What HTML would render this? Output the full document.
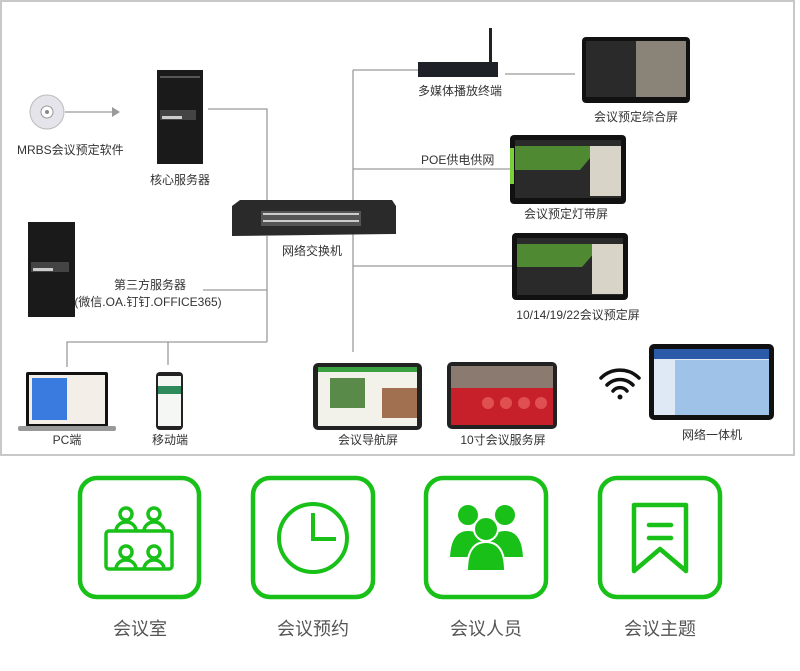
<!DOCTYPE html>
<html><head><meta charset="utf-8"><style>
html,body{margin:0;padding:0;background:#fff;}
svg{display:block;}
text{font-family:"Liberation Sans","Noto Sans CJK SC",sans-serif;}
</style></head><body>
<svg width="800" height="671" viewBox="0 0 800 671" xmlns="http://www.w3.org/2000/svg">
<rect x="0" y="0" width="800" height="671" fill="#fff"/>
<rect x="1" y="1" width="793" height="454" fill="#fff" stroke="#c8c8c8" stroke-width="2"/>

<!-- connectors -->
<g stroke="#9a9a9a" stroke-width="1.3" fill="none">
<line x1="65" y1="112" x2="112" y2="112"/>
<polyline points="208,109 267,109 267,205"/>
<line x1="267" y1="236" x2="267" y2="342"/>
<line x1="203" y1="290" x2="267" y2="290"/>
<polyline points="67,367 67,342 267,342"/>
<line x1="168" y1="342" x2="168" y2="365"/>
<line x1="353" y1="70" x2="353" y2="352"/>
<line x1="353" y1="70" x2="420" y2="70"/>
<line x1="505" y1="74" x2="575" y2="74"/>
<line x1="353" y1="169" x2="512" y2="169"/>
<line x1="353" y1="266" x2="512" y2="266"/>
</g>
<polygon points="112,107 120,112 112,117" fill="#9a9a9a"/>

<!-- CD -->
<circle cx="47" cy="112" r="17" fill="#e4e4ea" stroke="#bbb"/>
<circle cx="47" cy="112" r="6" fill="#fff" stroke="#999"/>
<circle cx="47" cy="112" r="2" fill="#888"/>
<text x="17" y="154" font-size="12" fill="#333">MRBS会议预定软件</text>

<!-- core server -->
<rect x="157" y="70" width="46" height="94" fill="#1a1a1a"/>
<rect x="160" y="110" width="36" height="10" fill="#444"/>
<rect x="162" y="116" width="20" height="3" fill="#ccc"/>
<rect x="160" y="76" width="40" height="2" fill="#555"/>
<text x="180" y="184" font-size="12" fill="#333" text-anchor="middle">核心服务器</text>

<!-- switch -->
<polygon points="232,206 240,200 392,200 396,206 396,234 232,236" fill="#2a2a2a"/>
<rect x="261" y="211" width="100" height="15" fill="#555"/>
<g fill="#ccc"><rect x="263" y="213" width="96" height="2"/><rect x="263" y="220" width="96" height="2"/></g>
<text x="312" y="255" font-size="12" fill="#333" text-anchor="middle">网络交换机</text>

<!-- third server -->
<rect x="28" y="222" width="47" height="95" fill="#1a1a1a"/>
<rect x="31" y="262" width="38" height="10" fill="#444"/>
<rect x="33" y="268" width="20" height="3" fill="#ccc"/>
<text x="150" y="289" font-size="12" fill="#333" text-anchor="middle">第三方服务器</text>
<text x="148" y="306" font-size="12" fill="#333" text-anchor="middle">(微信.OA.钉钉.OFFICE365)</text>

<!-- laptop -->
<rect x="26" y="372" width="82" height="55" rx="2" fill="#111"/>
<rect x="29" y="375" width="76" height="49" fill="#f3efe8"/>
<rect x="32" y="378" width="35" height="42" fill="#3a7be0"/>
<rect x="18" y="426" width="98" height="5" rx="2" fill="#999"/>
<text x="67" y="444" font-size="12" fill="#333" text-anchor="middle">PC端</text>
<!-- phone -->
<rect x="156" y="372" width="27" height="58" rx="4" fill="#222"/>
<rect x="158" y="376" width="23" height="50" fill="#f4f7f4"/>
<rect x="158" y="386" width="23" height="8" fill="#2e8a5a"/>
<text x="170" y="444" font-size="12" fill="#333" text-anchor="middle">移动端</text>

<!-- multimedia -->
<rect x="489" y="28" width="3" height="38" fill="#222"/>
<rect x="418" y="62" width="80" height="15" fill="#1e2228"/>
<text x="460" y="95" font-size="12" fill="#333" text-anchor="middle">多媒体播放终端</text>

<!-- screen 1 -->
<rect x="582" y="37" width="108" height="66" rx="4" fill="#111"/>
<rect x="586" y="41" width="50" height="56" fill="#2a2a2a"/>
<rect x="636" y="41" width="50" height="56" fill="#8a8478"/>
<text x="636" y="121" font-size="12" fill="#333" text-anchor="middle">会议预定综合屏</text>

<!-- POE -->
<text x="421" y="164" font-size="12" fill="#333">POE供电供网</text>
<rect x="510" y="135" width="116" height="69" rx="4" fill="#111"/>
<rect x="510" y="148" width="4" height="36" fill="#7ad03a"/>
<rect x="515" y="140" width="106" height="58" fill="#2a2a2a"/>
<polygon points="515,146 600,146 580,170 515,170" fill="#4f8a32"/>
<rect x="590" y="146" width="31" height="50" fill="#d9d4c8"/>
<text x="566" y="218" font-size="12" fill="#333" text-anchor="middle">会议预定灯带屏</text>

<!-- screen 3 -->
<rect x="512" y="233" width="116" height="67" rx="4" fill="#111"/>
<rect x="517" y="238" width="106" height="57" fill="#2a2a2a"/>
<polygon points="517,244 602,244 582,267 517,267" fill="#4f8a32"/>
<rect x="592" y="244" width="31" height="50" fill="#d9d4c8"/>
<text x="578" y="319" font-size="12" fill="#333" text-anchor="middle">10/14/19/22会议预定屏</text>

<!-- nav screen -->
<rect x="313" y="363" width="109" height="67" rx="5" fill="#222"/>
<rect x="318" y="367" width="99" height="59" fill="#f2f2ea"/>
<rect x="318" y="367" width="99" height="5" fill="#3aa040"/>
<rect x="330" y="378" width="35" height="30" fill="#5a8a4a"/>
<rect x="382" y="388" width="35" height="30" fill="#a07050"/>
<text x="368" y="444" font-size="12" fill="#333" text-anchor="middle">会议导航屏</text>

<!-- 10 inch -->
<rect x="447" y="362" width="110" height="67" rx="5" fill="#222"/>
<rect x="451" y="366" width="102" height="59" fill="#c8202a"/>
<rect x="451" y="366" width="102" height="22" fill="#8a7a70"/>
<g fill="#e05050"><circle cx="488" cy="403" r="6"/><circle cx="506" cy="403" r="6"/><circle cx="524" cy="403" r="6"/><circle cx="541" cy="403" r="6"/></g>
<text x="503" y="444" font-size="12" fill="#333" text-anchor="middle">10寸会议服务屏</text>

<!-- wifi -->
<g fill="none" stroke="#111" stroke-width="3.5" stroke-linecap="round">
<path d="M601,378 A27,27 0 0 1 639,378"/>
<path d="M607,385 A18,18 0 0 1 633,385"/>
<path d="M613,391 A9,9 0 0 1 627,391"/>
</g>
<circle cx="620" cy="397" r="2.5" fill="#111"/>

<!-- network machine -->
<rect x="649" y="344" width="125" height="76" rx="5" fill="#111"/>
<rect x="654" y="349" width="115" height="66" fill="#dfe9f5"/>
<rect x="654" y="349" width="115" height="10" fill="#2a5aa8"/>
<rect x="675" y="360" width="94" height="55" fill="#9fc3e8"/>
<text x="712" y="439" font-size="12" fill="#333" text-anchor="middle">网络一体机</text>

<!-- bottom icons -->
<g fill="none" stroke="#18c018" stroke-width="4.5">
<rect x="80" y="478" width="119" height="119" rx="17"/>
<rect x="253" y="478" width="120" height="119" rx="17"/>
<rect x="426" y="478" width="120" height="119" rx="17"/>
<rect x="600" y="478" width="120" height="119" rx="17"/>
</g>
<!-- icon1: meeting room -->
<g fill="none" stroke="#18c018" stroke-width="3.5" stroke-linejoin="round">
<rect x="106" y="531" width="66" height="38" rx="3"/>
<circle cx="126" cy="514" r="6"/><circle cx="154" cy="514" r="6"/>
<path d="M116,531 A10,9 0 0 1 136,531"/><path d="M144,531 A10,9 0 0 1 164,531"/>
<circle cx="126" cy="552" r="6"/><circle cx="154" cy="552" r="6"/>
<path d="M116,569 A10,9 0 0 1 136,569"/><path d="M144,569 A10,9 0 0 1 164,569"/>
</g>
<!-- icon2: clock -->
<g fill="none" stroke="#18c018" stroke-width="4">
<ellipse cx="313" cy="538" rx="34" ry="34"/>
<polyline points="313,513 313,539 336,539"/>
</g>
<!-- icon3: people -->
<g fill="#18c018" stroke="#fff" stroke-width="2">
<circle cx="468" cy="515" r="11"/><circle cx="505" cy="515" r="11"/>
<path d="M449,558 Q450,530 468,530 Q487,530 488,558 Z"/>
<path d="M486,558 Q487,530 505,530 Q523,530 524,558 Z"/>
<circle cx="486" cy="529" r="12"/>
<path d="M467,571 Q467,542 486,542 Q505,542 505,571 Z"/>
</g>
<!-- icon4: bookmark -->
<g fill="none" stroke="#18c018" stroke-width="4.5" stroke-linejoin="round" stroke-linecap="round">
<path d="M634,505 L686,505 L686,571 L660,549 L634,571 Z"/>
<line x1="649" y1="525" x2="671" y2="525"/>
<line x1="649" y1="538" x2="671" y2="538"/>
</g>
<g font-size="18" fill="#555" text-anchor="middle">
<text x="140" y="635">会议室</text>
<text x="313" y="635">会议预约</text>
<text x="486" y="635">会议人员</text>
<text x="660" y="635">会议主题</text>
</g>
</svg>
</body></html>
